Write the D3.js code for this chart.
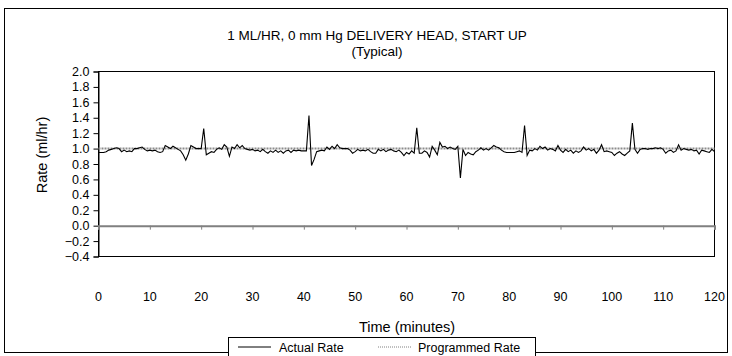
<!DOCTYPE html>
<html><head><meta charset="utf-8">
<script src="https://cdn.jsdelivr.net/npm/d3@7/dist/d3.min.js"></script>
<style>
html,body{margin:0;padding:0;background:#fff;}
text{font-family:"Liberation Sans",Arial,sans-serif;fill:#000;}
</style></head>
<body><svg id="c" width="732" height="356"></svg>
<script>
// ---- data ----
const titleLines = ["1 ML/HR, 0 mm Hg DELIVERY HEAD, START UP", "(Typical)"];
const xLabel = "Time (minutes)";
const yLabel = "Rate (ml/hr)";
const seriesNames = ["Actual Rate", "Programmed Rate"];
const xTicks = [0,10,20,30,40,50,60,70,80,90,100,110,120];
const yTicks = [-0.4,-0.2,0.0,0.2,0.4,0.6,0.8,1.0,1.2,1.4,1.6,1.8,2.0];
const sampleMinutes = 0.5; // one reading every 30 s
// actual rate, t = 0 .. 24 min
const actualA = [.95,.95,.95,.96,.98,.99,1.00,1.01,1.00,.96,
  .98,.96,.97,.96,1.00,1.00,1.01,1.02,.99,.97,
  .98,.97,.98,.96,.95,.96,1.04,1.02,1.00,1.03,
  1.01,.99,.97,.92,.85,.93,1.04,1.02,1.00,1.00,
  1.00,1.26,.92,.94,.96,.95,.99,1.01,.99];
// t = 24.5 .. 47
const actualB = [1.05,1.02,.90,1.02,1.00,1.05,1.01,1.04,1.00,.99,
  .98,.99,.97,.98,.96,.99,.96,.94,.97,.95,
  .98,.95,.97,.94,.97,.98,.95,.98,.97,.98,
  .97,.97,.97,1.43,.78,.86,.96,.97,.98,.97,
  1.02,.99,1.03,1.00,1.05,1.01];
// t = 47.5 .. 72
const actualC = [1.00,1.00,1.00,.98,.94,.96,.99,.97,.98,.97,
  .99,.96,.94,.94,.99,.97,.99,.96,.98,.99,
  .97,.96,.98,.95,.91,.95,.93,.97,.94,1.27,
  .94,.94,.97,.95,.89,1.03,.98,.92,1.08,1.02,
  1.03,1.00,1.02,1.00,.99,1.03,.62,.99,.91,.95];
// t = 72.5 .. 96.5
const actualD = [.93,.92,.96,.98,1.01,.98,1.00,.98,1.01,1.04,
  1.02,1.01,.98,.96,.95,.95,.95,.95,.96,.97,
  .95,1.30,.91,.98,.97,1.00,.98,1.03,1.00,1.02,
  .98,1.00,.99,.97,1.04,.98,.95,.99,.96,.98,
  .94,.97,.95,.97,1.02,.98,1.00,.97,.99];
// t = 97 .. 120
const actualE = [.94,.98,1.05,.96,.97,.96,.95,.91,.94,.96,
  .93,.91,.94,.97,1.33,.99,.94,.99,1.00,1.00,
  .99,1.00,1.00,1.01,1.00,1.01,.99,.94,.97,.98,
  .95,.97,1.05,.98,1.00,.99,.98,.99,.97,.98,
  .93,.98,.97,.96,.95,.99,.96];
const actualRate = [].concat(actualA, actualB, actualC, actualD, actualE);
const programmedRate = [1.0, 1.0];
const programmedTimes = [0, 120];

// ---- layout ----
const svg = d3.select("#c");
const L = 98.5, R = 714.5, T = 71.5, B = 256.5;
const x = d3.scaleLinear().domain([0,120]).range([L,R]);
const y = d3.scaleLinear().domain([-0.4,2.0]).range([B,T]);

// outer border
svg.append("rect").attr("x",4.5).attr("y",8.5).attr("width",723).attr("height",344)
  .attr("fill","none").attr("stroke","#000").attr("stroke-width",1);

// title
const tt = svg.append("text").attr("x",377).attr("y",40).attr("text-anchor","middle")
  .style("font-size","13.5px");
tt.append("tspan").attr("x",377).attr("dy",0).text(titleLines[0]);
tt.append("tspan").attr("x",377).attr("dy",16).text(titleLines[1]);

// plot border
svg.append("rect").attr("x",L).attr("y",T).attr("width",R-L).attr("height",B-T)
  .attr("fill","none").attr("stroke","#000").attr("stroke-width",1);

// y axis
const yAxis = d3.axisLeft(y).tickValues(yTicks).tickSize(5).tickPadding(4)
  .tickFormat(d3.format(".1f"));
const gy = svg.append("g").attr("transform",`translate(${L},0)`).call(yAxis);
gy.select(".domain").attr("stroke","#000");
gy.selectAll("text").style("font-size","12.5px").style("font-family","Liberation Sans, Arial, sans-serif");

// x axis at y = 0 (gray) with ticks, labels low
const xAxis = d3.axisBottom(x).tickValues(xTicks).tickSize(4).tickFormat("");
const gx = svg.append("g").attr("transform",`translate(0,${y(0)})`).call(xAxis);
gx.select(".domain").attr("stroke","#808080").attr("stroke-width",2);
gx.selectAll(".tick line").attr("stroke","#808080").attr("stroke-width",1);

svg.append("g").selectAll("text").data(xTicks).join("text")
  .attr("x",d=>x(d)).attr("y",301).attr("text-anchor","middle")
  .style("font-size","12.5px").text(d=>d);

// axis titles
svg.append("text").attr("x",407).attr("y",332).attr("text-anchor","middle")
  .style("font-size","14.5px").text(xLabel);
svg.append("text").attr("transform","translate(47,155) rotate(-90)")
  .attr("text-anchor","middle").style("font-size","14.5px").text(yLabel);

// programmed rate
svg.append("path")
  .datum(programmedTimes.map((t,i)=>[t,programmedRate[i]]))
  .attr("fill","none").attr("stroke","#8c8c8c").attr("stroke-width",2)
  .attr("stroke-dasharray","2,1")
  .attr("d",d3.line().x(d=>x(d[0])).y(d=>y(d[1])));

// actual rate
svg.append("path")
  .datum(actualRate.map((v,i)=>[i*sampleMinutes,v]))
  .attr("fill","none").attr("stroke","#000").attr("stroke-width",1.1)
  .attr("stroke-linejoin","miter")
  .attr("d",d3.line().x(d=>x(d[0])).y(d=>y(d[1])));

// legend
const lg = svg.append("g");
lg.append("rect").attr("x",228.5).attr("y",337.5).attr("width",307).attr("height",19)
  .attr("fill","#fff").attr("stroke","#000");
lg.append("line").attr("x1",238).attr("x2",271).attr("y1",347).attr("y2",347)
  .attr("stroke","#000").attr("stroke-width",1);
lg.append("text").attr("x",279).attr("y",351.5).style("font-size","12.5px").text(seriesNames[0]);
lg.append("line").attr("x1",378).attr("x2",411).attr("y1",347).attr("y2",347)
  .attr("stroke","#808080").attr("stroke-width",1).attr("stroke-dasharray","1,1");
lg.append("text").attr("x",418).attr("y",351.5).style("font-size","12.5px").text(seriesNames[1]);
</script></body></html>
